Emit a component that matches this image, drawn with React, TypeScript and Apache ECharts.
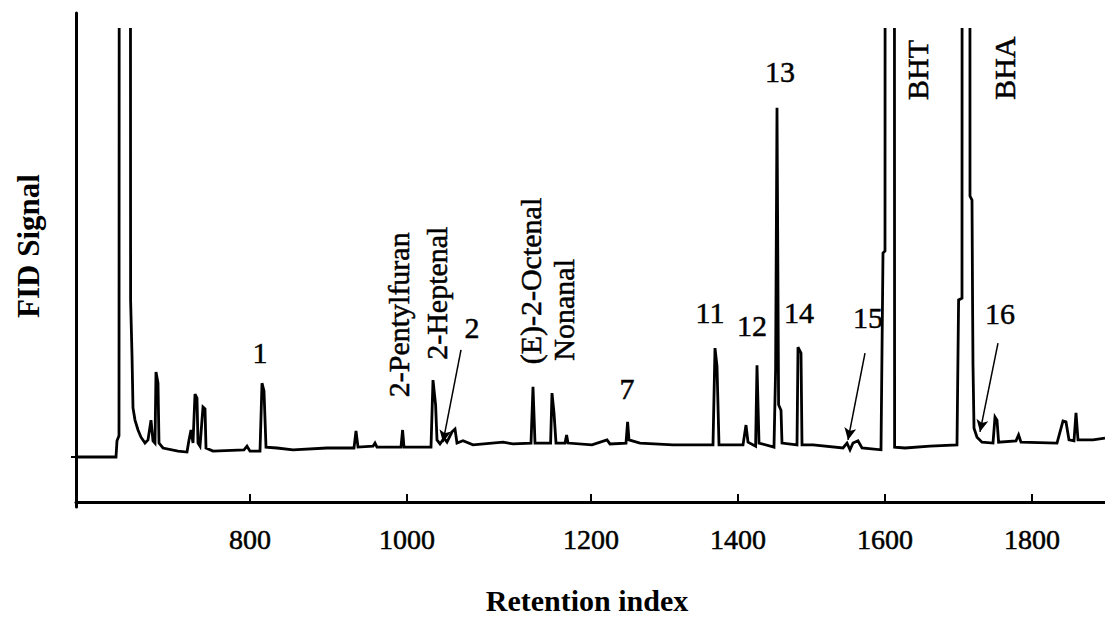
import React, { useEffect, useRef } from "react";
import * as echarts from "echarts";

// Retention time (min) at which the retention-index tick marks fall
const tickTimes = [8.7, 16.55, 25.75, 33.1, 40.45, 47.8];
const tickLabels = ["800", "1000", "1200", "1400", "1600", "1800"];

// FID trace: [retention time (min), signal (a.u.)]; off-scale peaks exceed the axis max
const trace: [number, number][] = [
  [0, 0], [2.0, 0], [2.05, 3.6], [2.15, 4.7], [2.45, 3000], [2.73, 34.9], [2.8, 22.7],
  [2.85, 10.9], [2.95, 8.2], [3.1, 6.0], [3.25, 4.4], [3.45, 3.1], [3.6, 3.8], [3.75, 8.2],
  [3.85, 3.6], [3.95, 3.1], [4.0, 18.9], [4.1, 16.4], [4.15, 3.1], [4.35, 2.0], [5.1, 1.3],
  [5.55, 1.1], [5.65, 3.8], [5.75, 6.0], [5.85, 3.1], [5.95, 14.0], [6.05, 13.1], [6.1, 3.1],
  [6.2, 2.4], [6.35, 11.1], [6.45, 10.7], [6.5, 2.0], [6.85, 1.3], [8.4, 1.6], [8.55, 2.4],
  [8.7, 1.3], [9.2, 1.3], [9.3, 16.4], [9.4, 14.7], [9.5, 2.2], [10.05, 2.0], [10.85, 1.6],
  [12.55, 2.0], [13.9, 2.0], [14.0, 5.8], [14.1, 2.2], [14.85, 2.4], [14.95, 3.1], [15.05, 2.2],
  [16.25, 2.2], [16.33, 6.0], [16.4, 2.2], [17.75, 2.2], [17.85, 17.1], [17.98, 11.6],
  [18.05, 3.8], [18.2, 2.9], [18.4, 4.2], [18.55, 3.3], [18.8, 5.6], [18.95, 6.2], [19.05, 3.1],
  [19.35, 3.6], [19.85, 2.7], [21.35, 3.3], [21.85, 2.9], [22.75, 3.1], [22.85, 15.6],
  [22.95, 3.1], [23.73, 3.1], [23.8, 14.2], [23.9, 9.8], [24.0, 3.1], [24.45, 3.1], [24.53, 4.9],
  [24.6, 3.1], [25.8, 2.7], [26.55, 3.8], [26.7, 2.9], [27.5, 3.1], [27.58, 7.8], [27.65, 3.8],
  [28.2, 3.1], [29.85, 2.7], [31.85, 2.7], [31.95, 24.2], [32.05, 20.2], [32.15, 2.7],
  [33.35, 2.7], [33.5, 7.1], [33.6, 3.3], [33.98, 2.4], [34.05, 20.4], [34.15, 3.1], [34.9, 2.2],
  [34.98, 19.3], [35.05, 77.6], [35.13, 11.6], [35.25, 10.4], [35.3, 3.1], [36.05, 2.7],
  [36.1, 24.4], [36.25, 23.1], [36.3, 2.7], [36.85, 2.7], [38.35, 2.0], [38.55, 3.1], [38.7, 1.6],
  [38.85, 3.1], [39.1, 3.6], [39.3, 2.0], [40.25, 1.6], [40.35, 45.3], [40.45, 45.8],
  [40.7, 3000], [40.93, 2.2], [41.45, 2.0], [42.7, 2.4], [44.05, 2.7], [44.13, 34.9],
  [44.3, 35.3], [44.5, 3000], [44.7, 58.0], [44.8, 57.1], [44.83, 33.1], [44.85, 20.4],
  [44.9, 6.4], [45.05, 4.4], [45.3, 3.3], [45.85, 3.1], [45.95, 8.9], [46.05, 8.2], [46.13, 3.3],
  [47.0, 3.6], [47.13, 4.9], [47.25, 3.3], [49.05, 3.1], [49.35, 8.0], [49.5, 7.8], [49.65, 3.8],
  [49.9, 3.6], [50.0, 9.8], [50.1, 3.8], [50.85, 3.8], [51.45, 4.2],
];

// Peak annotations: text, [time, signal] position of text centre, rotated?
const peakLabels: [string, number, number, boolean][] = [
  ["1", 9.2, 23.3, false],
  ["2-Pentylfuran", 16.1, 31.6, true],
  ["2-Heptenal", 18.0, 36.4, true],
  ["2", 19.8, 28.7, false],
  ["(E)-2-Octenal", 22.7, 39.1, true],
  ["Nonanal", 24.35, 32.7, true],
  ["7", 27.55, 15.3, false],
  ["11", 31.7, 32.2, false],
  ["12", 33.8, 29.3, false],
  ["13", 35.2, 85.6, false],
  ["14", 36.15, 32.2, false],
  ["15", 39.6, 30.9, false],
  ["BHT", 42.05, 86.0, true],
  ["BHA", 46.4, 86.4, true],
  ["16", 46.2, 32.0, false],
];

// Pointer arrows: [from time, from signal, to time, to signal]
const arrows: [number, number, number, number][] = [
  [19.25, 23.8, 18.35, 3.3],
  [39.45, 23.1, 38.6, 3.8],
  [46.1, 25.3, 45.2, 5.6],
];

const FONT = "'Liberation Serif', 'Times New Roman', serif";

export default function App() {
  const ref = useRef<HTMLDivElement>(null);
  useEffect(() => {
    if (!ref.current) return;
    const chart = echarts.init(ref.current, null, { renderer: "svg" });
    const nearestLabel = (v: number) => {
      let best = 0;
      for (let i = 1; i < tickTimes.length; i++) {
        if (Math.abs(tickTimes[i] - v) < Math.abs(tickTimes[best] - v)) best = i;
      }
      return tickLabels[best];
    };
    chart.setOption({
      animation: false,
      backgroundColor: "#fff",
      grid: [
        { left: 76, right: 0, top: 29.5, bottom: 127 },
        { left: 76, right: 0, top: 13, bottom: 122 },
      ],
      xAxis: [
        {
          type: "value",
          gridIndex: 0,
          min: 0,
          max: 51.45,
          splitLine: { show: false },
          axisLine: { onZero: false, lineStyle: { color: "#000", width: 3 } },
          axisTick: {
            customValues: tickTimes,
            inside: true,
            length: 8,
            lineStyle: { color: "#000", width: 2 },
          },
          axisLabel: {
            customValues: tickTimes,
            formatter: (v: number) => nearestLabel(v),
            color: "#000",
            fontSize: 28,
            fontFamily: FONT,
            margin: 23,
            textBorderColor: "#000",
            textBorderWidth: 0.5,
          },
        },
        { type: "value", gridIndex: 1, min: 0, max: 1, show: false },
      ],
      yAxis: [
        {
          type: "value",
          gridIndex: 0,
          min: -10,
          max: 95,
          splitLine: { show: false },
          axisLine: { show: false },
          axisTick: {
            show: true,
            customValues: [0],
            length: 5,
            lineStyle: { color: "#000", width: 2 },
          },
          axisLabel: { show: false },
        },
        {
          type: "value",
          gridIndex: 1,
          min: 0,
          max: 1,
          splitLine: { show: false },
          axisLine: { show: true, onZero: false, lineStyle: { color: "#000", width: 3 } },
          axisTick: { show: false },
          axisLabel: { show: false },
        },
      ],
      series: [
        {
          type: "line",
          xAxisIndex: 0,
          yAxisIndex: 0,
          data: trace,
          showSymbol: false,
          symbol: "none",
          clip: true,
          lineStyle: { color: "#000", width: 2.8, join: "miter", miterLimit: 4 },
          markPoint: {
            symbol: "circle",
            symbolSize: 0,
            itemStyle: { color: "transparent" },
            data: peakLabels.map(([text, t, v, rot]) => ({
              name: text,
              coord: [t, v],
              label: {
                show: true,
                position: "inside",
                formatter: text,
                rotate: rot ? 90 : 0,
                color: "#000",
                fontSize: 30,
                fontFamily: FONT,
                align: "center",
                verticalAlign: "middle",
                textBorderColor: "#000",
                textBorderWidth: 0.5,
              },
            })),
          },
          markLine: {
            silent: true,
            symbol: ["none", "arrow"],
            symbolSize: [9, 12],
            label: { show: false },
            lineStyle: { color: "#000", width: 1.5, type: "solid" },
            data: arrows.map(([t1, v1, t2, v2]) => [
              { coord: [t1, v1] },
              { coord: [t2, v2] },
            ]),
          },
        },
      ],
      graphic: [
        {
          type: "text",
          x: 587,
          y: 600,
          style: {
            text: "Retention index",
            fill: "#000",
            font: `bold 30px ${FONT}`,
            align: "center",
            verticalAlign: "middle",
          },
        },
        {
          type: "text",
          x: 28,
          y: 246,
          rotation: Math.PI / 2,
          style: {
            text: "FID Signal",
            fill: "#000",
            font: `bold 31px ${FONT}`,
            align: "center",
            verticalAlign: "middle",
          },
        },
      ],
    });
    return () => chart.dispose();
  }, []);
  return (
    <div
      ref={ref}
      style={{ position: "absolute", left: 0, top: 0, width: 1105, height: 629 }}
    />
  );
}
